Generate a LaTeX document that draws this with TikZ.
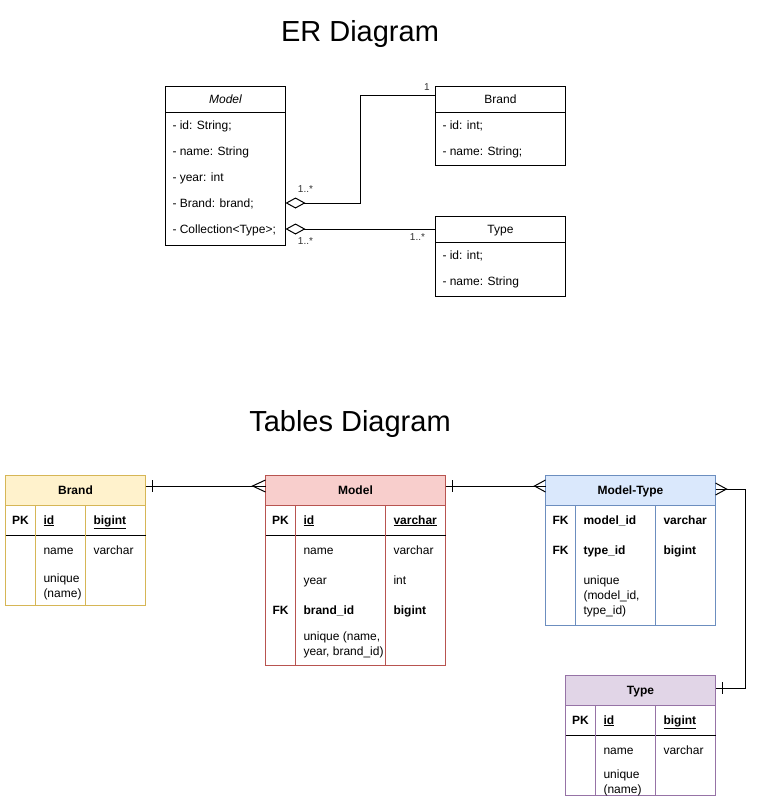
\documentclass[tikz,border=0pt]{standalone}
\usepackage{fontspec}
\setmainfont{Liberation Sans}
\usetikzlibrary{arrows.meta}
\definecolor{brandFill}{HTML}{FFF2CC}
\definecolor{brandLine}{HTML}{D6B656}
\definecolor{modelFill}{HTML}{F8CECC}
\definecolor{modelLine}{HTML}{B85450}
\definecolor{mtFill}{HTML}{DAE8FC}
\definecolor{mtLine}{HTML}{6C8EBF}
\definecolor{typeFill}{HTML}{E1D5E7}
\definecolor{typeLine}{HTML}{9673A6}

\begin{document}
\begin{tikzpicture}[x=1pt, y=-1pt, line width=1pt,
  box/.style={draw, rectangle, inner sep=0pt, outer sep=0pt, anchor=north west, fill=white},
  txt/.style={font=\fontsize{12}{15}\selectfont, inner sep=0pt, anchor=west, text height=8.6pt, text depth=2.5pt, yshift=-1pt},
  mtxt/.style={font=\fontsize{12}{15}\selectfont, inner sep=0pt, anchor=north west, align=left},
  hdr/.style={txt, anchor=center},
  bhdr/.style={txt, anchor=center, font=\fontsize{12}{15}\selectfont\bfseries},
  key/.style={txt, anchor=center, font=\fontsize{12}{15}\selectfont\bfseries},
  mult/.style={font=\fontsize{10}{12}\selectfont, inner sep=0pt, text=black!80},
  title/.style={font=\fontsize{29}{34}\selectfont, inner sep=0pt},
  agg/.style={{Diamond[open, length=20pt, width=11pt]}-}
]
\useasboundingbox[fill=white] (0,0) rectangle (764,801);

\node[title] (erTitle) at (360,34) {ER Diagram};

\node[box, minimum width=120pt, minimum height=159pt] (modelER) at (165.5,86.5) {};
\draw (modelER.north west) ++(0,26) -- ++(120,0);
\node[hdr, font=\fontsize{12}{15}\selectfont\itshape] (modelERName) at (225.5,99) {Model};
\node[txt] (erModelId) at (172,125) {- id: String;};
\node[txt] (erModelName) at (172,151) {- name: String};
\node[txt] (erModelYear) at (172,177) {- year: int};
\node[txt] (erModelBrand) at (172,203) {- Brand: brand;};
\node[txt] (erModelColl) at (172,229) {- Collection<Type>;};

\node[box, minimum width=130pt, minimum height=79pt] (brandER) at (435.5,86.5) {};
\draw (brandER.north west) ++(0,26) -- ++(130,0);
\node[hdr] (brandERName) at (500.5,99) {Brand};
\node[txt] (erBrandId) at (442,125) {- id: int;};
\node[txt] (erBrandName) at (442,151) {- name: String;};

\node[box, minimum width=130pt, minimum height=80pt] (typeER) at (435.5,216.5) {};
\draw (typeER.north west) ++(0,26) -- ++(130,0);
\node[hdr] (typeERName) at (500.5,229) {Type};
\node[txt] (erTypeId) at (442,255) {- id: int;};
\node[txt] (erTypeName) at (442,281) {- name: String};

\coordinate (erBend) at (360,95);
\draw[agg] ([yshift=1pt]modelER.east |- erModelBrand) -| (erBend) -- (erBend -| brandER.west);
\draw[agg] ([yshift=1pt]modelER.east |- erModelColl) -- ([yshift=1pt]typeER.west |- erModelColl);
\node[mult] (multBrandOne) at (427,87) {1};
\node[mult] (multModelBrand) at (305.5,189) {1..*};
\node[mult] (multModelType) at (305.5,241) {1..*};
\node[mult] (multTypeModel) at (417.5,237) {1..*};

\node[title] (tablesTitle) at (350,424) {Tables Diagram};

\node[box, draw=brandLine, minimum width=140pt, minimum height=130pt] (brandT) at (5.5,475.5) {};
\draw[brandLine, fill=brandFill] (brandT.north west) rectangle ++(140,30);
\draw (brandT.north west) ++(0,60) -- ++(140,0);
\draw[brandLine] (35.5,505.5) -- (35.5,605.5);
\draw[brandLine] (85.5,505.5) -- (85.5,605.5);
\node[bhdr] (brandTName) at (75.5,490) {Brand};
\node[key] (brandPk) at (20.5,520) {PK};
\node[txt, font=\fontsize{12}{15}\selectfont\bfseries] (brandId) at (43,520) {\underline{id}};
\node[txt, font=\fontsize{12}{15}\selectfont\bfseries] (brandIdType) at (93,520) {\underline{bigint}};
\node[txt] (brandName) at (43,550) {name};
\node[txt] (brandNameType) at (93,550) {varchar};
\node[mtxt] (brandUnique) at (43,573) {unique\\(name)};

\node[box, draw=modelLine, minimum width=180pt, minimum height=190pt] (modelT) at (265.5,475.5) {};
\draw[modelLine, fill=modelFill] (modelT.north west) rectangle ++(180,30);
\draw (modelT.north west) ++(0,60) -- ++(180,0);
\draw[modelLine] (295.5,505.5) -- (295.5,665.5);
\draw[modelLine] (385.5,505.5) -- (385.5,665.5);
\node[bhdr] (modelTName) at (355.5,490) {Model};
\node[key] (modelPk) at (280.5,520) {PK};
\node[txt, font=\fontsize{12}{15}\selectfont\bfseries] (modelId) at (303,520) {\underline{id}};
\node[txt, font=\fontsize{12}{15}\selectfont\bfseries] (modelIdType) at (393,520) {\underline{varchar}};
\node[txt] (modelName) at (303,550) {name};
\node[txt] (modelNameType) at (393,550) {varchar};
\node[txt] (modelYear) at (303,580) {year};
\node[txt] (modelYearType) at (393,580) {int};
\node[key] (modelFk) at (280.5,610) {FK};
\node[txt, font=\fontsize{12}{15}\selectfont\bfseries] (modelBrandId) at (303,610) {brand\_id};
\node[txt, font=\fontsize{12}{15}\selectfont\bfseries] (modelBrandIdType) at (393,610) {bigint};
\node[mtxt] (modelUnique) at (303,631) {unique (name,\\year, brand\_id)};

\node[box, draw=mtLine, minimum width=170pt, minimum height=150pt] (mtT) at (545.5,475.5) {};
\draw[mtLine, fill=mtFill] (mtT.north west) rectangle ++(170,30);
\draw[mtLine] (575.5,505.5) -- (575.5,625.5);
\draw[mtLine] (655.5,505.5) -- (655.5,625.5);
\node[bhdr] (mtTName) at (630.5,490) {Model-Type};
\node[key] (mtFkModel) at (560.5,520) {FK};
\node[txt, font=\fontsize{12}{15}\selectfont\bfseries] (mtModelId) at (583,520) {model\_id};
\node[txt, font=\fontsize{12}{15}\selectfont\bfseries] (mtModelIdType) at (663,520) {varchar};
\node[key] (mtFkType) at (560.5,550) {FK};
\node[txt, font=\fontsize{12}{15}\selectfont\bfseries] (mtTypeId) at (583,550) {type\_id};
\node[txt, font=\fontsize{12}{15}\selectfont\bfseries] (mtTypeIdType) at (663,550) {bigint};
\node[mtxt] (mtUnique) at (583,575) {unique\\(model\_id,\\type\_id)};

\node[box, draw=typeLine, minimum width=150pt, minimum height=120pt] (typeT) at (565.5,675.5) {};
\draw[typeLine, fill=typeFill] (typeT.north west) rectangle ++(150,30);
\draw (typeT.north west) ++(0,60) -- ++(150,0);
\draw[typeLine] (595.5,705.5) -- (595.5,795.5);
\draw[typeLine] (655.5,705.5) -- (655.5,795.5);
\node[bhdr] (typeTName) at (640.5,690) {Type};
\node[key] (typePk) at (580.5,720) {PK};
\node[txt, font=\fontsize{12}{15}\selectfont\bfseries] (typeId) at (603,720) {\underline{id}};
\node[txt, font=\fontsize{12}{15}\selectfont\bfseries] (typeIdType) at (663,720) {\underline{bigint}};
\node[txt] (typeName) at (603,750) {name};
\node[txt] (typeNameType) at (663,750) {varchar};
\node[mtxt] (typeUnique) at (603,769) {unique\\(name)};

\draw ([yshift=-10.5pt]brandT.north east) -- ([yshift=-10.5pt]modelT.north west);
\draw ([xshift=7pt,yshift=-4.5pt]brandT.north east) -- ++(0,12);
\draw ([yshift=-4.5pt]modelT.north west) -- ([xshift=-13pt,yshift=-10.5pt]modelT.north west) -- ([yshift=-16.5pt]modelT.north west);

\draw ([yshift=-10.5pt]modelT.north east) -- ([yshift=-10.5pt]mtT.north west);
\draw ([xshift=7pt,yshift=-4.5pt]modelT.north east) -- ++(0,12);
\draw ([yshift=-4.5pt]mtT.north west) -- ([xshift=-11pt,yshift=-10.5pt]mtT.north west) -- ([yshift=-16.5pt]mtT.north west);

\draw ([yshift=-13.5pt]mtT.north east) -- ++(29.5,0) |- ([yshift=-12.5pt]typeT.north east);
\draw ([yshift=-7.5pt]mtT.north east) -- ([xshift=11pt,yshift=-13.5pt]mtT.north east) -- ([yshift=-19.5pt]mtT.north east);
\draw ([xshift=6.5pt,yshift=-6.5pt]typeT.north east) -- ++(0,12);

\end{tikzpicture}
\end{document}
